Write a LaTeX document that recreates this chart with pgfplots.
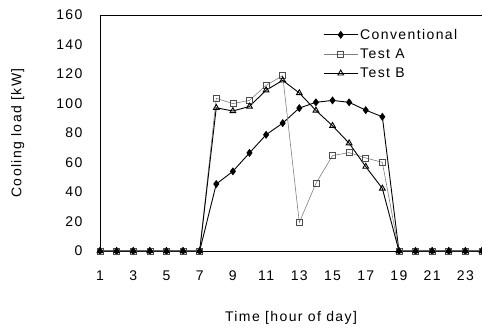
\documentclass[border=0pt]{standalone}
\usepackage{fontspec}
\setmainfont{Liberation Sans}[LetterSpace=10]
\usepackage{pgfplots}
\pgfplotsset{compat=1.18}
\begin{document}
\begin{tikzpicture}
\begin{axis}[
  name=ax,
  scale only axis,
  width=382pt, height=236pt,
  xmin=1, xmax=24, ymin=0, ymax=160,
  xtick={1,3,...,23},
  ytick={0,20,...,160},
  major tick length=0pt,
  /pgf/number format/assume math mode=true,
  tick label style={font=\fontsize{14}{16}\selectfont},
  yticklabel style={xshift=-14pt},
  xticklabel style={yshift=-16pt},
  xlabel={Time [hour of day]},
  ylabel={Cooling load [kW]},
  label style={font=\fontsize{14}{16}\selectfont},
  xlabel style={at={(axis description cs:0.5,-0.284)}, anchor=center},
  ylabel style={at={(axis description cs:-0.215,0.5)}, anchor=center},
  axis line style={line width=0.9pt},
  clip=false,
  legend image code/.code={\draw[mark repeat=2,mark phase=2,#1] plot coordinates {(0pt,0pt) (17pt,0pt) (34pt,0pt)};},
  legend style={draw=none, fill=none, font=\fontsize{14}{16}\selectfont,
    at={(rel axis cs:0.584,0.95)}, anchor=north west,
    row sep=4pt, inner sep=0pt},
  legend cell align=left,
]
\addplot[black, line width=0.9pt, mark=diamond*, mark size=3.3pt, mark options={fill=black}] coordinates {
(1,0)(2,0)(3,0)(4,0)(5,0)(6,0)(7,0)(8,45.4)(9,54)(10,66.5)(11,78.8)(12,86.7)(13,96.9)(14,100.8)(15,102.1)(16,100.8)(17,95.5)(18,91)(19,0)(20,0)(21,0)(22,0)(23,0)(24,0)};
\addlegendentry{Conventional}
\addplot[gray, line width=0.6pt, mark=square, mark size=3pt, mark options={fill=white, draw=black!70, solid}] coordinates {
(1,0)(2,0)(3,0)(4,0)(5,0)(6,0)(7,0)(8,103.5)(9,99.9)(10,102.1)(11,112.3)(12,118.9)(13,19.3)(14,45.8)(15,64.7)(16,66.7)(17,63.1)(18,60.1)(19,0)(20,0)(21,0)(22,0)(23,0)(24,0)};
\addlegendentry{Test A}
\addplot[black, line width=0.9pt, mark=triangle, mark size=3.3pt, mark options={fill=white}] coordinates {
(1,0)(2,0)(3,0)(4,0)(5,0)(6,0)(7,0)(8,97.1)(9,94.9)(10,98)(11,109)(12,115.7)(13,107.1)(14,95.3)(15,84.9)(16,73.1)(17,57.2)(18,42.4)(19,0)(20,0)(21,0)(22,0)(23,0)(24,0)};
\addlegendentry{Test B}
\end{axis}
\pgfresetboundingbox
\path[use as bounding box] ([shift={(-100pt,-78pt)}]ax.south west) rectangle ([shift={(0pt,15pt)}]ax.north east);
\end{tikzpicture}
\end{document}
